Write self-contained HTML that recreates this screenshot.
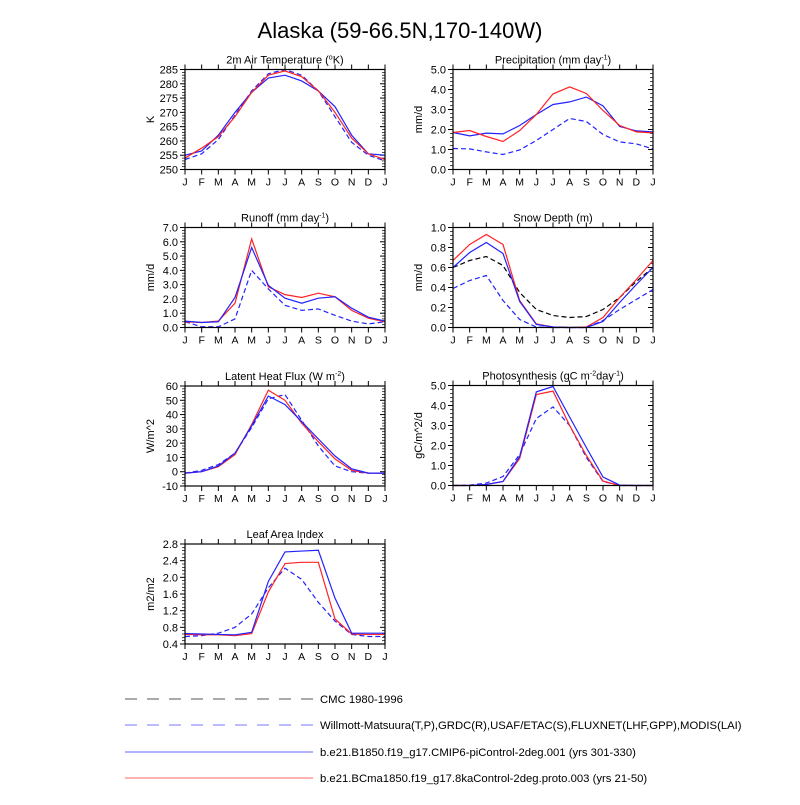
<!DOCTYPE html>
<html><head><meta charset="utf-8"><style>
body{margin:0;background:#fff;width:800px;height:800px;overflow:hidden}
svg text{font-family:"Liberation Sans",sans-serif;fill:#000}
</style></head><body>
<svg id="chart" width="800" height="800" viewBox="0 0 800 800" xmlns="http://www.w3.org/2000/svg">
<text x="400" y="38" font-size="22" text-anchor="middle">Alaska (59-66.5N,170-140W)</text>
<g id="panels"></g>
<g>
<line x1="125" y1="699" x2="313" y2="699" stroke="#555" stroke-dasharray="12,10"/>
<text x="320" y="703" font-size="11.3">CMC 1980-1996</text>
<line x1="125" y1="725" x2="313" y2="725" stroke="#77f" stroke-dasharray="12,10"/>
<text x="320" y="729" font-size="11.3">Willmott-Matsuura(T,P),GRDC(R),USAF/ETAC(S),FLUXNET(LHF,GPP),MODIS(LAI)</text>
<line x1="125" y1="752" x2="313" y2="752" stroke="#66f"/>
<text x="320" y="756" font-size="11.3">b.e21.B1850.f19_g17.CMIP6-piControl-2deg.001 (yrs 301-330)</text>
<line x1="125" y1="778" x2="313" y2="778" stroke="#f66"/>
<text x="320" y="782" font-size="11.3">b.e21.BCma1850.f19_g17.8kaControl-2deg.proto.003 (yrs 21-50)</text>
</g>
</svg>
<script>
const months = ["J","F","M","A","M","J","J","A","S","O","N","D","J"];
const tempBlue = [255,256.5,262,270,277,282,283,281,277.5,272,262,255.5,255];
const tempRed = [254,257.5,261.5,268.5,277,283,284.5,282.5,277.5,270,261,255.5,253.5];
const tempObs = [253.5,255.5,260.5,269,277.5,283.5,285,283,277.5,268.5,259.5,255,253];
const tempTicks = [250,255,260,265,270,275,280,285];
const precBlue = [1.85,1.68,1.82,1.78,2.2,2.75,3.25,3.38,3.62,3.18,2.15,1.93,1.88];
const precRed = [1.85,1.95,1.65,1.4,1.95,2.75,3.78,4.13,3.8,2.95,2.2,1.88,1.83];
const precObs = [1.05,1.03,0.88,0.75,0.98,1.45,2.0,2.55,2.4,1.75,1.38,1.28,1.03];
const precTicks = [0,1,2,3,4,5];
const runBlue = [0.45,0.35,0.4,2.1,5.6,2.95,2.05,1.7,2.05,2.15,1.35,0.72,0.45];
const runRed = [0.4,0.35,0.45,1.7,6.2,2.85,2.3,2.1,2.4,2.15,1.2,0.65,0.4];
const runObs = [0.4,0.05,0.05,0.6,4.0,2.7,1.55,1.2,1.3,0.85,0.45,0.25,0.4];
const runTicks = [0,1,2,3,4,5,6,7];
const snowBlue = [0.6,0.75,0.85,0.74,0.26,0.03,0.005,0,0,0.06,0.25,0.43,0.6];
const snowRed = [0.67,0.83,0.93,0.83,0.27,0.035,0.005,0,0.005,0.1,0.3,0.48,0.67];
const snowCmc = [0.6,0.67,0.71,0.62,0.35,0.18,0.12,0.1,0.11,0.18,0.3,0.46,0.6];
const snowObs = [0.39,0.47,0.52,0.27,0.08,0.005,0,0,0,0.07,0.18,0.28,0.38];
const snowTicks = [0,0.2,0.4,0.6,0.8,1.0];
const lhfBlue = [-1,0,4,13,32,53,47,35,23,11,2,-1,-1];
const lhfRed = [-1,0,3.5,12,33,57,50,34,21,9,1,-1,-1];
const lhfObs = [-1,1,5,13,31,51,54,36,18,4,0,-1,-1];
const lhfTicks = [-10,0,10,20,30,40,50,60];
const gppBlue = [0,0,0.05,0.2,1.45,4.68,4.95,3.42,1.9,0.42,0.02,0,0];
const gppRed = [0,0,0.05,0.2,1.35,4.55,4.72,3.0,1.5,0.22,0,0,0];
const gppObs = [0,0.02,0.12,0.45,1.55,3.35,3.93,3.0,1.4,0.2,0,0,0];
const gppTicks = [0,1,2,3,4,5];
const laiBlue = [0.65,0.64,0.63,0.62,0.68,1.9,2.61,2.63,2.65,1.5,0.66,0.66,0.66];
const laiRed = [0.63,0.62,0.62,0.6,0.65,1.65,2.33,2.36,2.36,1.0,0.64,0.63,0.63];
const laiObs = [0.58,0.6,0.66,0.8,1.12,1.75,2.22,1.95,1.4,0.95,0.63,0.58,0.58];
const laiTicks = [0.4,0.8,1.2,1.6,2.0,2.4,2.8];

const NS="http://www.w3.org/2000/svg";
const root=document.getElementById('panels');
function mk(tag,attrs,parent){const e=document.createElementNS(NS,tag);for(const k in attrs)e.setAttribute(k,attrs[k]);parent.appendChild(e);return e;}

function panel(o){
  const g=mk('g',{},root);
  
  
  const L=o.x,T=o.y,W=200,H=100;
  const y0=o.ticks[0], y1=o.ticks[o.ticks.length-1];
  const sx=i=>L+i*W/12;
  const sy=v=>T+H-(v-y0)/(y1-y0)*H;
  const t=mk('text',{x:L+W/2,y:T-6,'font-size':11,'text-anchor':'middle'},g);
  
  
  t.innerHTML=o.title;
  const yl=mk('text',{x:0,y:0,'font-size':11,'text-anchor':'middle',transform:`translate(${L-31},${T+H/2}) rotate(-90)`},g);
  
  
  yl.textContent=o.ylabel;
  for(let i=0;i<13;i++){
    const X=sx(i);
    mk('line',{x1:X,y1:T+H,x2:X,y2:T+H+5,stroke:'#000','stroke-width':1},g);
    mk('line',{x1:X,y1:T,x2:X,y2:T-5,stroke:'#000','stroke-width':1},g);
    const lb=mk('text',{x:X,y:T+H+16,'font-size':10.5,'text-anchor':'middle'},g);
    
    
    lb.textContent=months[i];
  }
  const step=o.ticks[1]-o.ticks[0];
  o.ticks.forEach((v,k)=>{
    const Y=sy(v);
    mk('line',{x1:L-5,y1:Y,x2:L,y2:Y,stroke:'#000'},g);
    mk('line',{x1:L+W,y1:Y,x2:L+W-5,y2:Y,stroke:'#000'},g);
    const lb=mk('text',{x:L-7,y:Y+4,'font-size':11,'text-anchor':'end'},g);
    
    
    lb.textContent=v.toFixed(o.dec);
    if(k<o.ticks.length-1){for(let m=1;m<5;m++){const Ym=sy(v+step*m/5);
      mk('line',{x1:L-3,y1:Ym,x2:L,y2:Ym,stroke:'#000','stroke-width':0.7},g);
      mk('line',{x1:L+W,y1:Ym,x2:L+W-3,y2:Ym,stroke:'#000','stroke-width':0.7},g);}}
  });
  o.series.forEach(s=>{
    const p=mk('polyline',{points:s.data.map((v,i)=>sx(i)+','+sy(v)).join(' '),fill:'none',stroke:s.color,'stroke-width':1.2,'stroke-dasharray':s.dash?'5,3':'none'},g);
    
    
  });
  mk('rect',{x:L,y:T,width:W,height:H,fill:'none',stroke:'#000','stroke-width':1.2},g);
}
const sup=s=>`<tspan dy="-4" font-size="7">${s}</tspan><tspan dy="4">`;
panel({name:'temperature',x:185,y:69.5,ticks:tempTicks,dec:0,ylabel:'K',title:'2m Air Temperature ('+sup('o')+'K)</tspan>',
  series:[{id:'obs',data:tempObs,color:'#22f',dash:1},{id:'blue',data:tempBlue,color:'#22f'},{id:'red',data:tempRed,color:'#f22'}]});
panel({name:'precipitation',x:453,y:69.5,ticks:precTicks,dec:1,ylabel:'mm/d',title:'Precipitation (mm day'+sup('-1')+')</tspan>',
  series:[{id:'obs',data:precObs,color:'#22f',dash:1},{id:'blue',data:precBlue,color:'#22f'},{id:'red',data:precRed,color:'#f22'}]});
panel({name:'runoff',x:185,y:227.5,ticks:runTicks,dec:1,ylabel:'mm/d',title:'Runoff (mm day'+sup('-1')+')</tspan>',
  series:[{id:'obs',data:runObs,color:'#22f',dash:1},{id:'red',data:runRed,color:'#f22'},{id:'blue',data:runBlue,color:'#22f'}]});
panel({name:'snow-depth',x:453,y:227.5,ticks:snowTicks,dec:1,ylabel:'mm/d',title:'Snow Depth (m)',
  series:[{id:'cmc',data:snowCmc,color:'#000',dash:1},{id:'obs',data:snowObs,color:'#22f',dash:1},{id:'red',data:snowRed,color:'#f22'},{id:'blue',data:snowBlue,color:'#22f'}]});
panel({name:'latent-heat',x:185,y:386,ticks:lhfTicks,dec:0,ylabel:'W/m^2',title:'Latent Heat Flux (W m'+sup('-2')+')</tspan>',
  series:[{id:'obs',data:lhfObs,color:'#22f',dash:1},{id:'red',data:lhfRed,color:'#f22'},{id:'blue',data:lhfBlue,color:'#22f'}]});
panel({name:'photosynthesis',x:453,y:385.5,ticks:gppTicks,dec:1,ylabel:'gC/m^2/d',title:'Photosynthesis (gC m'+sup('-2')+'day'+sup('-1')+')</tspan></tspan>',
  series:[{id:'obs',data:gppObs,color:'#22f',dash:1},{id:'red',data:gppRed,color:'#f22'},{id:'blue',data:gppBlue,color:'#22f'}]});
panel({name:'leaf-area-index',x:185,y:544,ticks:laiTicks,dec:1,ylabel:'m2/m2',title:'Leaf Area Index',
  series:[{id:'obs',data:laiObs,color:'#22f',dash:1},{id:'red',data:laiRed,color:'#f22'},{id:'blue',data:laiBlue,color:'#22f'}]});
</script>
</body></html>
